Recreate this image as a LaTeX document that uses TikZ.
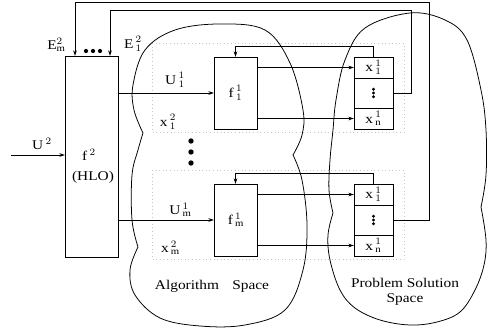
\documentclass[tikz,border=0pt]{standalone}
\usepackage{fontspec}
\setmainfont{Liberation Serif}[FakeStretch=1.15]
\usetikzlibrary{arrows.meta, positioning}

\begin{document}
\begin{tikzpicture}[>={Stealth[length=4pt,width=2.6pt]}, x=0.25cm, y=0.25cm,
  font=\fontsize{9.5}{10.5}\selectfont, line width=0.55pt,
  box/.style={draw, inner sep=0pt, outer sep=0pt},
  cell/.style={box, minimum width=9.75mm, minimum height=5.25mm},
  midcell/.style={box, minimum width=9.75mm, minimum height=7.5mm},
  lbl/.style={inner sep=0pt},
  frame/.style={dotted, gray!45}]
  \useasboundingbox (0,0) rectangle (48.7,-33.3);
  % HLO box
  \node[box, minimum width=13.25mm, minimum height=50.25mm] (hlo) at (9.15,-15.65) {};
  \node[lbl] (f2) at (8.9,-15.5) {f\,$^{2}$};
  \node[lbl] (hlotxt) at (9.3,-17.7) {(HLO)};
  % input U2
  \coordinate (uin) at (1.1,-15.5);
  \draw[->] (uin) -- (uin -| hlo.west);
  \node[lbl] (u2) at (4.2,-14.4) {U\,$^{2}$};
  % feedback labels on top
  \node[lbl] (em) at (5.6,-4.5) {E$^{2}_{\mathrm{m}}$};
  \node[lbl] (e1) at (13.3,-4.4) {E\,$^{2}_{1}$};
  \foreach \x in {8.6,9.3,10.0}
    \fill (\x,-5.1) circle (1.5pt);
  % dotted frames
  \draw[frame] (15.2,-4.3) rectangle (40.4,-13.2);
  \draw[frame] (15.2,-17.0) rectangle (40.4,-25.9);
  % lower level, first
  \node[box, minimum width=10.75mm, minimum height=18mm] (fa) at (23.55,-9.3) {f\,$^{1}_{1}$};
  \node[cell] (xa1) at (37.35,-6.75) {x\,$^{1}_{1}$};
  \node[midcell, below=0pt of xa1] (xam) {};
  \node[cell, below=0pt of xam] (xan) {x\,$^{1}_{\mathrm{n}}$};
  \foreach \d in {-1,0,1}
    \fill ([yshift=\d*0.95mm]xam.center) circle (1.15pt);
  \draw[->] (hlo.east |- fa) -- (fa.west);
  \draw[->] (fa.east |- xa1) -- (xa1.west);
  \draw[->] (fa.east |- xan) -- (xan.west);
  \draw[->] (xa1.north) -- ++(0,1.1) -| (fa.north);
  \node[lbl] (ua) at (17.5,-8.0) {U\,$^{1}_{1}$};
  \node[lbl] (xa2) at (16.8,-12.2) {x\,$^{2}_{1}$};
  % dots between
  \foreach \y in {-14.1,-15.2,-16.3}
    \fill (19.1,\y) circle (1.9pt);
  % lower level, m
  \node[box, minimum width=10.75mm, minimum height=18mm] (fb) at (23.55,-22.0) {f\,$^{1}_{\mathrm{m}}$};
  \node[cell] (xb1) at (37.35,-19.45) {x\,$^{1}_{1}$};
  \node[midcell, below=0pt of xb1] (xbm) {};
  \node[cell, below=0pt of xbm] (xbn) {x\,$^{1}_{\mathrm{n}}$};
  \foreach \d in {-1,0,1}
    \fill ([yshift=\d*0.95mm]xbm.center) circle (1.15pt);
  \draw[->] (hlo.east |- fb) -- (fb.west);
  \draw[->] (fb.east |- xb1) -- (xb1.west);
  \draw[->] (fb.east |- xbn) -- (xbn.west);
  \draw[->] (xb1.north) -- ++(0,1.1) -| (fb.north);
  \node[lbl] (ub) at (18.0,-21.0) {U\,$^{1}_{\mathrm{m}}$};
  \node[lbl] (xb2) at (17.0,-24.8) {x\,$^{2}_{\mathrm{m}}$};
  % feedback to HLO
  \coordinate (tm) at (7.5,-0.25);
  \coordinate (t1) at (11.0,-1.0);
  \draw[->] (xbm.east) -| (42.9,-0.25) -- (tm) -- (tm |- hlo.north);
  \draw[->] (xam.east) -| (41.1,-1.0) -- (t1) -- (t1 |- hlo.north);
  % algorithm space
  \draw plot[smooth, tension=0.6] coordinates {(14.3,-13.3) (13.4,-11.0) (13.3,-8.5) (14.5,-5.0) (17.5,-3.0) (22.0,-2.4) (26.5,-3.0) (29.0,-6.3) (30.3,-11.0) (30.2,-13.5) (29.3,-15.5)};
  \draw plot[smooth, tension=0.6] coordinates {(29.3,-15.5) (30.2,-18.0) (30.7,-22.5) (30.3,-27.0) (28.5,-31.0) (24.5,-32.5) (20.0,-32.6) (16.0,-31.8) (13.5,-29.5) (13.0,-27.0) (13.8,-24.7)};
  \draw plot[smooth, tension=0.6] coordinates {(13.8,-24.7) (13.2,-22.0) (13.2,-17.5) (13.8,-15.0) (14.3,-13.3)};
  \node[lbl] (alg) at (21.2,-28.6) {Algorithm\quad Space};
  % problem solution space
  \draw plot[smooth, tension=0.6] coordinates {(33.3,-21.3) (32.9,-19.0) (33.0,-16.0) (33.3,-13.0) (33.6,-10.0) (34.5,-6.0) (36.5,-2.8) (41.0,-1.3) (44.5,-2.0) (46.7,-4.0) (48.1,-9.0) (48.6,-13.0) (48.6,-17.5) (48.1,-20.7)};
  \draw plot[smooth, tension=0.6] coordinates {(48.1,-20.7) (48.6,-24.0) (48.4,-26.5) (47.5,-29.0) (46.0,-31.2) (43.7,-32.2) (41.0,-32.5) (38.0,-32.0) (35.5,-30.8) (34.0,-29.0) (33.0,-26.0) (32.8,-23.5) (33.3,-21.3)};
  \node[lbl, align=center] (pss) at (40.5,-29.2) {Problem Solution\\Space};
\end{tikzpicture}
\end{document}
